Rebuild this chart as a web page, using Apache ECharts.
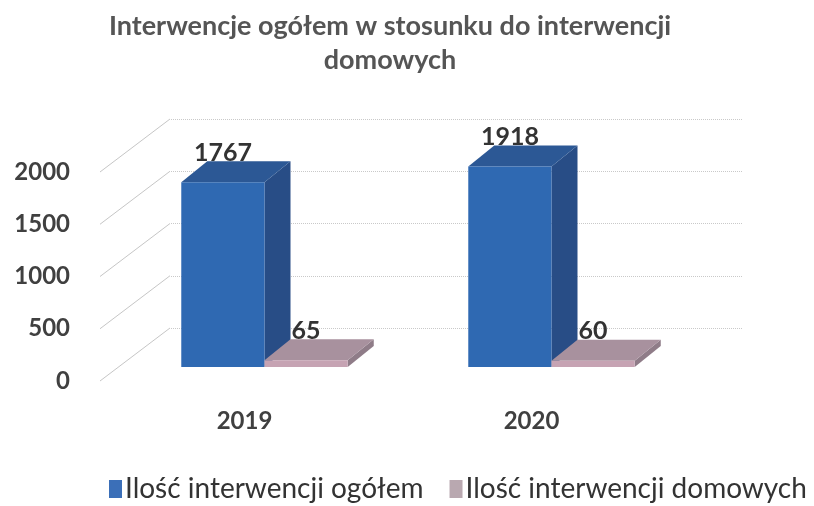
<!DOCTYPE html>
<html>
<head>
<meta charset="utf-8">
<script src="https://cdn.jsdelivr.net/npm/echarts@6/dist/echarts.min.js"></script>
<style>
  html, body { margin: 0; padding: 0; background: #fff; }
  #chart { width: 814px; height: 506px; }
</style>
</head>
<body>
<div id="chart"></div>
<script>
const years = ["2019", "2020"];
const ogolem = [1767, 1918];
const domowe = [65, 60];
const yTicks = [0, 500, 1000, 1500, 2000];
const seriesNames = ["Ilość interwencji ogółem", "Ilość interwencji domowych"];

// fake 3d: offsets of the bar plane and depth of a bar
const OFF = { x: 20, y: -14 };
const DEPTH = { x: 26, y: -21 };
const WALL = { x: 70, y: -53 };
const FONT = "Lato, 'Open Sans', sans-serif";

const colors = {
  blue: { front: "#2f69b2", side: "#284d86", top: "#2c5895" },
  pink: { front: "#c6a3b3", side: "#8f7c88", top: "#a8919e" },
};

const bar3d = (slot, c) => (params, api) => {
  const cat = api.value(0),
    v = api.value(1);
  const base = api.coord([cat, 0]);
  const top = api.coord([cat, v]);
  const band = api.size([1, 0])[0];
  const w = band * 0.29;
  const x0 = base[0] - w + slot * w + OFF.x;
  const yb = base[1] + OFF.y;
  const yt = top[1] + OFF.y;
  return {
    type: "group",
    children: [
      {
        type: "polygon",
        shape: { points: [[x0 + w, yt], [x0 + w + DEPTH.x, yt + DEPTH.y], [x0 + w + DEPTH.x, yb + DEPTH.y], [x0 + w, yb]] },
        style: { fill: c.side },
      },
      {
        type: "polygon",
        shape: { points: [[x0, yt], [x0 + w, yt], [x0 + w + DEPTH.x, yt + DEPTH.y], [x0 + DEPTH.x, yt + DEPTH.y]] },
        style: { fill: c.top },
      },
      {
        type: "rect",
        shape: { x: x0, y: yt, width: w, height: yb - yt },
        style: { fill: c.front },
      },
      {
        type: "text",
        style: {
          text: String(v),
          x: x0 + w / 2,
          y: yt + DEPTH.y + 4,
          align: "center",
          verticalAlign: "bottom",
          fontSize: 25,
          fontWeight: "bold",
          fontFamily: FONT,
          fill: "#333",
        },
      },
    ],
  };
};

const wallLines = (params, api) => {
  const v = api.value(1);
  const p = api.coord([0, v]);
  const band = api.size([1, 0])[0];
  const x = p[0] - band / 2 - 1;
  return {
    type: "line",
    shape: { x1: x, y1: p[1], x2: x + WALL.x, y2: p[1] + WALL.y },
    style: { stroke: "#c6c6c6", lineWidth: 1 },
  };
};

var chartDom = document.getElementById("chart");
var myChart = echarts.init(chartDom);
var option;

option = {
  backgroundColor: "#fff",
  animation: false,
  title: {
    text: "Interwencje ogółem w stosunku do interwencji\ndomowych",
    left: 385,
    top: 4,
    textAlign: "center",
    textStyle: {
      fontFamily: FONT,
      fontSize: 27,
      fontWeight: "bold",
      color: "#555",
      lineHeight: 34,
    },
  },
  legend: {
    data: seriesNames.map((n, i) => ({
      name: n,
      itemStyle: { color: i === 0 ? "#3b6fb8" : "#b9a8b0" },
    })),
    left: 104,
    top: 470,
    icon: "rect",
    itemWidth: 13,
    itemHeight: 18,
    itemGap: 26,
    textStyle: { fontFamily: FONT, fontSize: 28, color: "#333", padding: [0, 0, 0, -2] },
  },
  grid: [
    { left: 101, right: 139, top: 172, bottom: 125 },
    { left: 171, right: 71, top: 119, bottom: 178 },
  ],
  xAxis: [
    {
      type: "category",
      gridIndex: 0,
      data: years,
      axisLine: { show: false },
      axisTick: { show: false },
      axisLabel: {
        margin: 28,
        fontFamily: FONT,
        fontSize: 24,
        fontWeight: "bold",
        color: "#404040",
      },
    },
    {
      type: "category",
      gridIndex: 1,
      data: years,
      show: false,
    },
  ],
  yAxis: [
    {
      type: "value",
      gridIndex: 0,
      min: 0,
      max: 2000,
      interval: 500,
      splitLine: { show: false },
      axisLine: { show: false },
      axisTick: { show: false },
      axisLabel: {
        margin: 31,
        formatter: (v) => String(v),
        fontFamily: FONT,
        fontSize: 24,
        fontWeight: "bold",
        color: "#404040",
      },
    },
    {
      type: "value",
      gridIndex: 1,
      min: 0,
      max: 2000,
      interval: 500,
      axisLine: { show: false },
      axisTick: { show: false },
      axisLabel: { show: false },
      splitLine: { lineStyle: { color: "#c9c9c9", type: "dotted", width: 1 } },
    },
  ],
  series: [
    {
      name: "wall",
      type: "custom",
      xAxisIndex: 0,
      yAxisIndex: 0,
      silent: true,
      renderItem: wallLines,
      data: yTicks.map((v) => [0, v]),
      z: 1,
    },
    {
      name: seriesNames[0],
      type: "custom",
      xAxisIndex: 0,
      yAxisIndex: 0,
      renderItem: bar3d(0, colors.blue),
      itemStyle: { color: "#3b6fb8" },
      data: ogolem.map((v, i) => [i, v]),
      z: 2,
    },
    {
      name: seriesNames[1],
      type: "custom",
      xAxisIndex: 0,
      yAxisIndex: 0,
      renderItem: bar3d(1, colors.pink),
      itemStyle: { color: "#b9a8b0" },
      data: domowe.map((v, i) => [i, v]),
      z: 3,
    },
  ],
};

option && myChart.setOption(option);
</script>
</body>
</html>
